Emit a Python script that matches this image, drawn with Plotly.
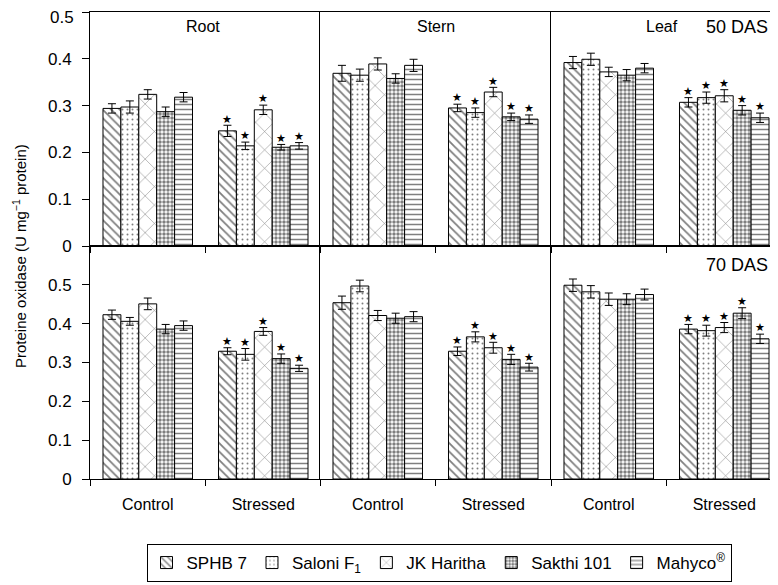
import plotly.graph_objects as go

varieties = ["SPHB 7", "Saloni F<sub>1</sub>", "JK Haritha", "Sakthi 101", "Mahyco<sup>®</sup>"]
treatments = ["Control", "Stressed"]
tissues = ["Root", "Stern", "Leaf"]
stages = ["50 DAS", "70 DAS"]
y_ticks = [0, 0.1, 0.2, 0.3, 0.4, 0.5]
y_tick_text = ["0", "0.1", "0.2", "0.3", "0.4", "0.5"]

# values[tissue][variety] = [control, stressed]
mean_50 = {
    "Root":  [[0.294, 0.246], [0.297, 0.214], [0.324, 0.291], [0.287, 0.211], [0.318, 0.214]],
    "Stern": [[0.369, 0.295], [0.365, 0.285], [0.389, 0.329], [0.358, 0.276], [0.386, 0.271]],
    "Leaf":  [[0.392, 0.307], [0.399, 0.317], [0.372, 0.321], [0.365, 0.290], [0.380, 0.274]],
}
err_50 = {
    "Root":  [[0.010, 0.012], [0.013, 0.008], [0.010, 0.010], [0.010, 0.006], [0.010, 0.007]],
    "Stern": [[0.017, 0.008], [0.013, 0.010], [0.013, 0.010], [0.010, 0.008], [0.013, 0.009]],
    "Leaf":  [[0.013, 0.010], [0.013, 0.012], [0.010, 0.013], [0.012, 0.010], [0.010, 0.010]],
}
mean_70 = {
    "Root":  [[0.423, 0.329], [0.406, 0.321], [0.451, 0.380], [0.386, 0.310], [0.395, 0.285]],
    "Stern": [[0.454, 0.329], [0.497, 0.366], [0.421, 0.338], [0.414, 0.308], [0.418, 0.288]],
    "Leaf":  [[0.499, 0.386], [0.482, 0.382], [0.463, 0.390], [0.463, 0.427], [0.475, 0.361]],
}
err_70 = {
    "Root":  [[0.012, 0.009], [0.010, 0.015], [0.015, 0.010], [0.012, 0.012], [0.012, 0.008]],
    "Stern": [[0.017, 0.011], [0.015, 0.013], [0.013, 0.014], [0.013, 0.013], [0.013, 0.010]],
    "Leaf":  [[0.016, 0.012], [0.016, 0.014], [0.016, 0.013], [0.014, 0.014], [0.014, 0.012]],
}
# significance (*) marks for [control, stressed]
signif = [False, True]

patterns = [
    dict(shape="\\", size=6, solidity=0.3),
    dict(shape=".", size=5, solidity=0.12),
    dict(shape="x", size=13, solidity=0.08),
    dict(shape=".", size=4, solidity=0.6),
    dict(shape="-", size=5, solidity=0.3),
]

# page body has an 8px margin; figure sized to the visible part of the window
OFF = 8
W, H = 778 - 2 * OFF, 585 - OFF


def px(x):
    return (x - OFF) / W


def py(y):
    return 1 - (y - OFF) / H


col_px = [(90, 320), (320, 551), (551, 770)]
row_px = [(12, 246), (246, 479)]
full_w = 231.0

fig = go.Figure()
font = "Arial, Liberation Sans, sans-serif"

bw = 0.155
cat_x = [0.5, 1.5]

ax_n = 0
for r, (stage, means, errs) in enumerate([("50 DAS", mean_50, err_50), ("70 DAS", mean_70, err_70)]):
    for c, tissue in enumerate(tissues):
        ax_n += 1
        xa = "x" if ax_n == 1 else f"x{ax_n}"
        ya = "y" if ax_n == 1 else f"y{ax_n}"
        for i, var in enumerate(varieties):
            xs = [cx + (i - 2) * bw for cx in cat_x]
            ys = means[tissue][i]
            es = errs[tissue][i]
            fig.add_trace(go.Bar(
                x=xs, y=ys, width=bw, name=var, legendgroup=var,
                showlegend=(ax_n == 1), xaxis=xa, yaxis=ya,
                marker=dict(color="white", line=dict(color="black", width=1),
                            pattern=dict(fgcolor="black", bgcolor="white", **patterns[i])),
                error_y=dict(type="data", array=es, color="black", thickness=1, width=4),
                hoverinfo="skip",
            ))
            sx = [xs[k] for k in range(2) if signif[k]]
            sy = [ys[k] + es[k] for k in range(2) if signif[k]]
            fig.add_trace(go.Scatter(
                x=sx, y=sy, mode="text", text=["★"] * len(sx), textposition="top center",
                textfont=dict(size=11, color="black"), showlegend=False,
                xaxis=xa, yaxis=ya, hoverinfo="skip", cliponaxis=False,
            ))
        x0, x1 = col_px[c]
        y0, y1 = row_px[r]
        xdom = [px(x0), min(1.0, px(x1))]
        ydom = [py(y1), py(y0)]
        xrange = [0, 2 * (x1 - x0) / full_w]
        bottom = (r == 1)
        xkey = "xaxis" if ax_n == 1 else f"xaxis{ax_n}"
        ykey = "yaxis" if ax_n == 1 else f"yaxis{ax_n}"
        fig.layout[xkey] = dict(
            domain=xdom, range=xrange, anchor=ya, showgrid=False, zeroline=False,
            showline=True, linecolor="black", linewidth=1, mirror=True, automargin=False,
            tickvals=cat_x, ticktext=treatments, showticklabels=bottom,
            ticks="outside", ticklen=11, tickcolor="rgba(0,0,0,0)",
            tickfont=dict(size=16, color="black", family=font),
            minor=dict(tickvals=[0, 1, 2], ticks="outside", ticklen=6, tickcolor="black", tickwidth=1),
            fixedrange=True,
        )
        yr = [0, 0.5] if r == 0 else [0, 0.6]
        # the topmost label of the top row sits at the page edge; it is drawn as an annotation below
        ttext = y_tick_text[:-1] + [""] if r == 0 else y_tick_text
        fig.layout[ykey] = dict(
            domain=ydom, range=yr, anchor=xa, showgrid=False, zeroline=False,
            showline=True, linecolor="black", linewidth=1, automargin=False,
            tickvals=y_ticks, ticktext=ttext,
            showticklabels=(c == 0), ticks="outside" if c == 0 else "",
            ticklen=7, tickcolor="black", tickwidth=1, ticklabeloverflow="allow",
            ticklabelstandoff=7,
            tickfont=dict(size=17, color="black", family=font),
            fixedrange=True,
        )

annotations = []
label_pos = {"Root": 203, "Stern": 436, "Leaf": 662}
for t in tissues:
    annotations.append(dict(x=px(label_pos[t]), y=py(27), xref="paper", yref="paper",
                            xanchor="center", yanchor="middle",
                            text=t, showarrow=False, font=dict(size=16, color="black", family=font)))
annotations.append(dict(x=px(737), y=py(27), xref="paper", yref="paper", text=stages[0],
                        xanchor="center", yanchor="middle",
                        showarrow=False, font=dict(size=18, color="black", family=font)))
annotations.append(dict(x=px(737), y=py(265), xref="paper", yref="paper", text=stages[1],
                        xanchor="center", yanchor="middle",
                        showarrow=False, font=dict(size=18, color="black", family=font)))
annotations.append(dict(x=px(20), y=py(256), xref="paper", yref="paper",
                        xanchor="center", yanchor="middle",
                        text="Proteine oxidase (U mg<sup>−1</sup> protein)", textangle=-90,
                        showarrow=False, font=dict(size=15, color="black", family=font)))
annotations.append(dict(x=px(74), y=1.0, xref="paper", yref="paper", text=y_tick_text[-1],
                        xanchor="right", yanchor="top", borderpad=0, borderwidth=0,
                        showarrow=False, font=dict(size=17, color="black", family=font)))

fig.update_layout(
    width=W, height=H, margin=dict(l=0, r=0, t=0, b=0, autoexpand=False),
    paper_bgcolor="white", plot_bgcolor="white",
    barmode="overlay", annotations=annotations,
    font=dict(family=font, color="black"),
    legend=dict(orientation="h", x=px(439), xanchor="center", y=py(563), yanchor="middle",
                bordercolor="black", borderwidth=1, font=dict(size=17, color="black", family=font),
                itemwidth=30, tracegroupgap=0),
)

fig.write_html("out.html")
